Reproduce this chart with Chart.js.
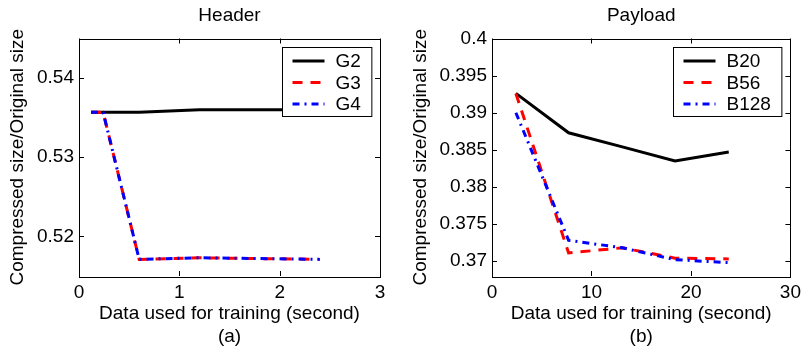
<!DOCTYPE html>
<html>
<head>
<meta charset="utf-8">
<script src="https://cdn.jsdelivr.net/npm/chart.js@4"></script>
<style>
body { margin: 0; background: #fff; }
#wrap { display: flex; width: 806px; height: 350px; }
canvas { display: block; }
</style>
</head>
<body>
<div id="wrap">
  <canvas id="graficoHeader" width="403" height="350"></canvas>
  <canvas id="graficoPayload" width="403" height="350"></canvas>
</div>
<script>
// Datos (a) Header
const headerX = [0.12, 0.24, 0.6, 1.2, 1.8, 2.4];
const g2 = [0.5357, 0.5357, 0.5357, 0.5360, 0.5360, 0.5360];
const g3 = [0.5357, 0.5357, 0.5171, 0.5173, 0.5172, 0.5171];
const g4 = [0.5357, 0.5357, 0.5171, 0.5173, 0.5172, 0.5171];
const headerXTicks = [0, 1, 2, 3];
const headerYTicks = [0.52, 0.53, 0.54];

// Datos (b) Payload
const payloadX = [2.4, 7.7, 13.1, 18.4, 23.8];
const b20 = [0.3926, 0.3873, 0.3854, 0.3835, 0.3847];
const b56 = [0.3926, 0.3711, 0.3718, 0.3704, 0.3703];
const b128 = [0.3900, 0.3728, 0.3718, 0.3702, 0.3698];
const payloadXTicks = [0, 10, 20, 30];
const payloadYTicks = [0.37, 0.375, 0.38, 0.385, 0.39, 0.395, 0.4];

const FUENTE = "'Liberation Sans', Arial, Helvetica, sans-serif";
const TAM = 19;

// Une x e y en puntos
function puntos(xs, ys) {
    return xs.map((x, i) => ({ x: x, y: ys[i] }));
}

// Marco de ejes con marcas hacia adentro
const marcoPlugin = {
    id: 'marco',
    afterDatasetsDraw(chart) {
        const ctx = chart.ctx;
        const a = chart.chartArea;
        const sx = chart.scales.x;
        const sy = chart.scales.y;
        const largo = 5;
        ctx.save();
        ctx.strokeStyle = '#000';
        ctx.lineWidth = 1;
        ctx.strokeRect(Math.round(a.left) + 0.5, Math.round(a.top) + 0.5,
                       Math.round(a.right - a.left), Math.round(a.bottom - a.top));
        ctx.beginPath();
        sx.ticks.forEach(t => {
            const px = Math.round(sx.getPixelForValue(t.value)) + 0.5;
            ctx.moveTo(px, a.bottom); ctx.lineTo(px, a.bottom - largo);
            ctx.moveTo(px, a.top); ctx.lineTo(px, a.top + largo);
        });
        sy.ticks.forEach(t => {
            const py = Math.round(sy.getPixelForValue(t.value)) + 0.5;
            ctx.moveTo(a.left, py); ctx.lineTo(a.left + largo, py);
            ctx.moveTo(a.right, py); ctx.lineTo(a.right - largo, py);
        });
        ctx.stroke();
        ctx.restore();
    }
};

// Leyenda dentro del área del gráfico, arriba a la derecha
const leyendaPlugin = {
    id: 'leyendaInterna',
    afterDraw(chart) {
        const ctx = chart.ctx;
        const a = chart.chartArea;
        const sets = chart.data.datasets;
        ctx.save();
        ctx.font = TAM + 'px ' + FUENTE;
        let maxTxt = 0;
        sets.forEach(d => { maxTxt = Math.max(maxTxt, ctx.measureText(d.label).width); });
        const ancho = 10 + 32 + 11 + maxTxt + 11;
        const alto = 69;
        const x0 = Math.round(a.right - 9 - ancho) + 0.5;
        const y0 = Math.round(a.top + 8.5) + 0.5;
        ctx.fillStyle = '#fff';
        ctx.fillRect(x0, y0, ancho, alto);
        ctx.strokeStyle = '#000';
        ctx.lineWidth = 1;
        ctx.strokeRect(x0, y0, ancho, alto);
        sets.forEach((d, i) => {
            const y = y0 + 13.5 + i * 21.5;
            ctx.beginPath();
            ctx.setLineDash(d.borderDash || []);
            ctx.strokeStyle = d.borderColor;
            ctx.lineWidth = d.borderWidth;
            ctx.moveTo(x0 + 10, y);
            ctx.lineTo(x0 + 42, y);
            ctx.stroke();
            ctx.setLineDash([]);
            ctx.fillStyle = '#000';
            ctx.textBaseline = 'middle';
            ctx.fillText(d.label, x0 + 53, y + 1);
        });
        ctx.restore();
    }
};

function crearGrafico(id, cfg) {
    const ctx = document.getElementById(id).getContext('2d');
    const fuente = { family: FUENTE, size: TAM };
    return new Chart(ctx, {
        type: 'line',
        data: {
            datasets: [
                { label: cfg.nombres[0], data: puntos(cfg.x, cfg.series[0]), borderColor: '#000000',
                  borderWidth: 3, pointRadius: 0, tension: 0, order: 2 },
                { label: cfg.nombres[1], data: puntos(cfg.x, cfg.series[1]), borderColor: '#ff0000',
                  borderWidth: 3, borderDash: [10, 8], pointRadius: 0, tension: 0, order: 1 },
                { label: cfg.nombres[2], data: puntos(cfg.x, cfg.series[2]), borderColor: '#0000ff',
                  borderWidth: 3, borderDash: [7, 5, 2, 5], pointRadius: 0, tension: 0, order: 0 }
            ]
        },
        options: {
            responsive: false,
            animation: false,
            layout: { padding: { left: 0, right: cfg.derecha, top: 0, bottom: 0 } },
            plugins: { legend: { display: false }, tooltip: { enabled: false } },
            scales: {
                x: {
                    type: 'linear', position: 'bottom', min: cfg.xMin, max: cfg.xMax,
                    afterBuildTicks: s => { s.ticks = cfg.xTicks.map(v => ({ value: v })); },
                    ticks: { color: '#000', font: fuente, padding: 5, maxRotation: 0,
                             callback: v => String(v) },
                    grid: { display: false, drawTicks: false },
                    border: { display: false },
                    title: { display: true, text: ['Data used for training (second)', cfg.letra],
                             color: '#000', font: fuente, padding: { top: 0, bottom: 2 } },
                    afterFit: s => { s.height = 74; }
                },
                arriba: {
                    type: 'linear', position: 'top',
                    ticks: { display: false },
                    grid: { display: false, drawTicks: false },
                    border: { display: false },
                    title: { display: true, text: cfg.titulo, color: '#000', font: fuente,
                             padding: { top: 4, bottom: 0 } },
                    afterFit: s => { s.height = 38.5; }
                },
                y: {
                    type: 'linear', position: 'left', min: cfg.yMin, max: cfg.yMax,
                    afterBuildTicks: s => { s.ticks = cfg.yTicks.map(v => ({ value: v })); },
                    ticks: { color: '#000', font: fuente, padding: 5,
                             callback: v => String(v) },
                    grid: { display: false, drawTicks: false },
                    border: { display: false },
                    title: { display: true, text: 'Compressed size/Original size', color: '#000',
                             font: fuente, padding: { top: 6, bottom: 0 } },
                    afterFit: s => { s.width = cfg.anchoY; }
                }
            }
        },
        plugins: [marcoPlugin, leyendaPlugin]
    });
}

crearGrafico('graficoHeader', {
    titulo: 'Header', letra: '(a)', nombres: ['G2', 'G3', 'G4'],
    x: headerX, series: [g2, g3, g4],
    xMin: 0, xMax: 3, yMin: 0.515, yMax: 0.545,
    xTicks: headerXTicks, yTicks: headerYTicks,
    anchoY: 79, derecha: 23
});

crearGrafico('graficoPayload', {
    titulo: 'Payload', letra: '(b)', nombres: ['B20', 'B56', 'B128'],
    x: payloadX, series: [b20, b56, b128],
    xMin: 0, xMax: 30, yMin: 0.368, yMax: 0.4,
    xTicks: payloadXTicks, yTicks: payloadYTicks,
    anchoY: 89, derecha: 13
});
</script>
</body>
</html>
